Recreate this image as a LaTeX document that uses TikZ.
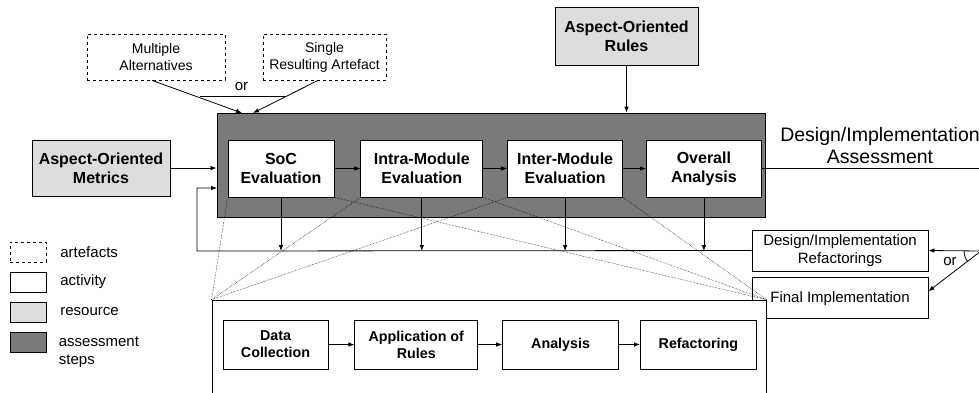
\documentclass[tikz,border=0pt]{standalone}
\usepackage{fontspec}
\setmainfont{Liberation Sans}
\usepackage{tikz}
\usetikzlibrary{positioning}
\usetikzlibrary{arrows}
\usetikzlibrary{arrows.meta}
\definecolor{stepgray}{RGB}{122,122,122}
\definecolor{resgray}{RGB}{221,221,221}
\tikzset{artefact node/.style={draw,dashed,align=center,minimum height=46pt,inner sep=2pt,font=\fontsize{14}{17}\selectfont},
	activity node/.style={draw,fill=white,align=center,minimum height=57pt,inner sep=2pt,font=\bfseries\fontsize{16}{19}\selectfont},
	detail node/.style={draw,fill=white,align=center,minimum height=49pt,inner sep=2pt,font=\bfseries\fontsize{14.3}{17}\selectfont},
	resource node/.style={draw,fill=resgray,align=center,inner sep=2pt,font=\bfseries\fontsize{16}{19}\selectfont},
	result node/.style={draw,fill=white,align=center,minimum width=176pt,minimum height=41pt,inner sep=2pt,font=\fontsize{15}{18}\selectfont},
	key node/.style={draw,minimum width=36pt,minimum height=20pt,inner sep=0pt},
	key label/.style={anchor=west,align=left,inner sep=0pt,font=\fontsize{15}{18}\selectfont},
	zoom line/.style={densely dotted,line width=0.5pt},}

\begin{document}
\begin{tikzpicture}[x=1pt, y=-1pt, >={Latex[length=6pt,width=4.5pt]}, line width=0.8pt, node distance=26pt]
	\useasboundingbox (0,0) rectangle (979,392);
	\clip (0,0) rectangle (979,392);

	% inputs
	\node[artefact node,minimum width=138pt] (multi) at (156,57) {Multiple\\Alternatives};
	\node[artefact node,minimum width=123pt] (single) at (324.5,57) {Single\\Resulting Artefact};
	\node[resource node,minimum width=143pt,minimum height=58pt] (rules) at (626.5,36) {Aspect-Oriented\\Rules};
	\node[resource node,minimum width=138pt,minimum height=56pt] (metrics) at (101,168) {Aspect-Oriented\\Metrics};

	% assessment steps
	\node[draw,fill=stepgray,minimum width=548pt,minimum height=104pt,inner sep=0pt] (steps) at (491,165) {};
	\node[activity node,minimum width=106pt] (soc) at (281,168.5) {SoC\\Evaluation};
	\node[activity node,minimum width=122pt] (intra) [right = 26pt of soc] {Intra-Module\\Evaluation};
	\node[activity node,minimum width=115pt] (inter) [right = 24pt of intra] {Inter-Module\\Evaluation};
	\node[activity node,minimum width=115pt] (overall) [right = 23pt of inter] {Overall\\Analysis};

	% outputs
	\node[align=center,inner sep=0pt,font=\fontsize{19.5}{22}\selectfont] (assess) at (880,146) {Design/Implementation\\Assessment};
	\node[result node] (refac) at (840,250.5) {Design/Implementation\\Refactorings};
	\node[result node] (final) [below = 6pt of refac] {Final Implementation};

	% detail of one step
	\node[draw,fill=white,minimum width=554pt,minimum height=110pt,inner sep=0pt] (detail) at (489,355) {};
	\node[detail node,minimum width=105pt] (data) at (275.5,344.5) {Data\\Collection};
	\node[detail node,minimum width=123pt] (apply) [right = 26pt of data] {Application of\\Rules};
	\node[detail node,minimum width=116pt] (analysis) [right = 24pt of apply] {Analysis};
	\node[detail node,minimum width=116pt] (refactoring) [right = 21pt of analysis] {Refactoring};

	% legend
	\node[key node,dashed] (k1) at (28,252) {};
	\node[key node] (k2) at (28,282) {};
	\node[key node,fill=resgray] (k3) at (28,312) {};
	\node[key node,fill=stepgray] (k4) at (28,342) {};
	\node[key label] (l1) at (60,252) {artefacts};
	\node[key label] (l2) at (60,282) {activity};
	\node[key label] (l3) at (60,312) {resource};
	\node[key label] (l4) at (58.5,352) {assessment\\steps};

	\coordinate (in1) at (242,113);
	\coordinate (in2) at (253,113);
	\coordinate (orl) at (200,96);
	\coordinate (orr) at (285,96);
	\coordinate (loop) at (197,251);
	\coordinate (back) at (217,188);
	\coordinate (split) at (981,251);

	\draw[->] (multi.south) ++(-4,0) -- (in1);
	\draw[->] (single.south) ++(-6.5,0) -- (in2);
	\draw (orl) -- (orr);
	\node[inner sep=0pt,font=\fontsize{15}{18}\selectfont] (or1) at (241.5,87) {or};

	\draw[->] (rules.south) -- (rules.south |- steps.north);
	\draw[->] (metrics.east) -- (metrics.east -| steps.west);
	\draw[->] (soc) -- (intra);
	\draw[->] (intra) -- (inter);
	\draw[->] (inter) -- (overall);
	\foreach \s in {soc,intra,inter,overall}
		\draw[->] (\s.south) -- (\s.south |- loop);
	\draw[->] (data) -- (apply);
	\draw[->] (apply) -- (analysis);
	\draw[->] (analysis) -- (refactoring);

	\draw[->] (refac.west) -- (loop) |- (back);
	\draw (overall.east) -- (overall.east -| split) -- (split);
	\draw[->] (split) -- (refac.east);
	\draw[->] (split) -- ([yshift=7pt]final.east);
	\draw ([shift={(180:17)}]split) arc[start angle=180, end angle=141, radius=17];
	\node[inner sep=0pt,font=\fontsize{15}{18}\selectfont] (or2) at (950,262) {or};

	% zoom lines
	\draw[zoom line] (detail.north west) -- (soc.south west);
	\draw[zoom line] (detail.north west) -- (intra.south west);
	\draw[zoom line] (detail.north west) -- (inter.south west);
	\draw[zoom line] (detail.north east) -- (soc.south east);
	\draw[zoom line] (detail.north east) -- (intra.south east);
	\draw[zoom line] (detail.north east) -- (inter.south east);
\end{tikzpicture}
\end{document}
